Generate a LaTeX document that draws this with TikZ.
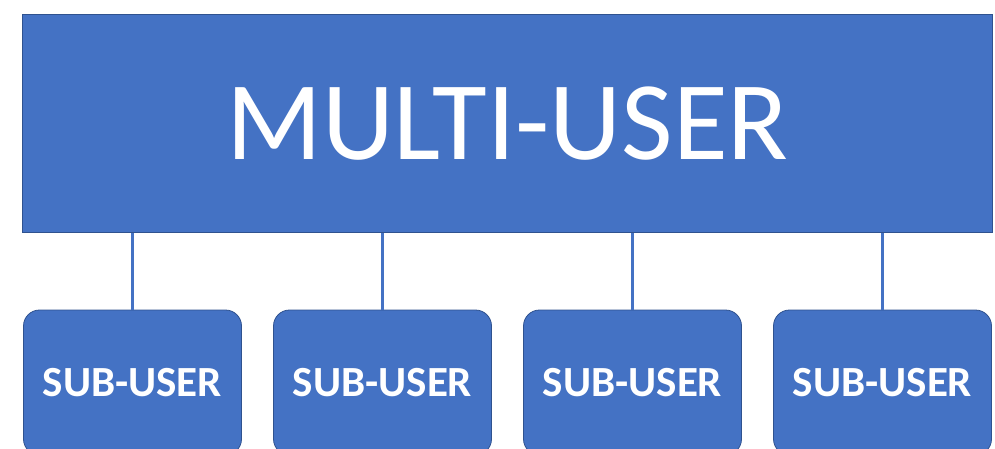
\documentclass[tikz,border=0pt]{standalone}
\usepackage{fontspec}
\setmainfont{Carlito}
\definecolor{boxblue}{HTML}{4472C4}
\definecolor{edgeblue}{HTML}{2F528F}
\begin{document}
\begin{tikzpicture}[x=1pt,y=-1pt,
  mainbox/.style={draw=edgeblue,line width=0.8pt,fill=boxblue,minimum width=970pt,minimum height=218pt,inner sep=0pt,text=white,font=\fontsize{112}{124}\selectfont},
  subbox/.style={draw=edgeblue,line width=0.8pt,fill=boxblue,rounded corners=16pt,minimum width=218pt,minimum height=145pt,inner sep=0pt,text=white,font=\fontsize{43}{50}\selectfont\bfseries},
  link/.style={draw=boxblue,line width=2.2pt}]
\useasboundingbox (0,0) rectangle (995,448);
\node[mainbox] (main) at (507.5,123.5) {MULTI-USER};
\node[subbox] (s1) at (132.5,382.5) {SUB-USER};
\node[subbox] (s2) at (382.5,382.5) {SUB-USER};
\node[subbox] (s3) at (632.5,382.5) {SUB-USER};
\node[subbox] (s4) at (882.5,382.5) {SUB-USER};
\foreach \s in {s1,s2,s3,s4}{
  \draw[link] (main.south -| \s.north) -- (\s.north);
}
\end{tikzpicture}
\end{document}
